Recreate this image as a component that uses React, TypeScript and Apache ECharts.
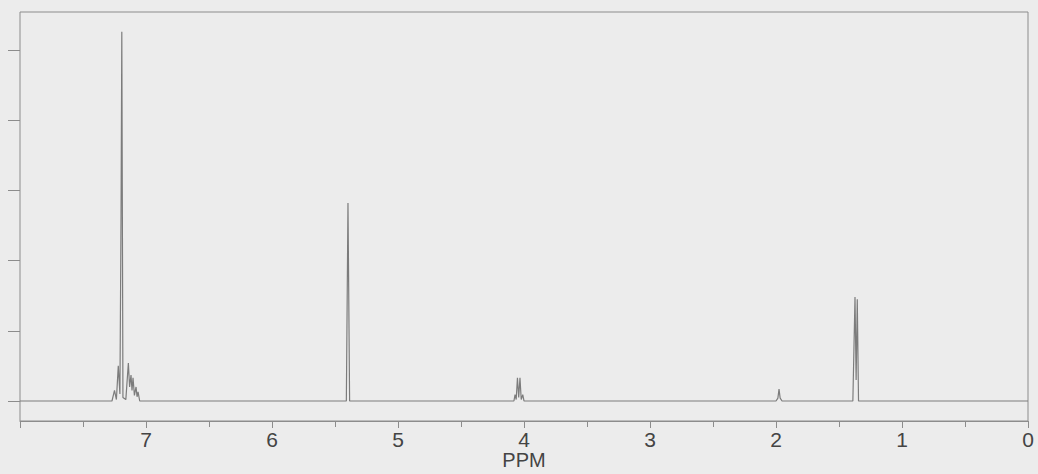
import React, { useEffect, useRef } from "react";
import * as echarts from "echarts";

// Spectrum points (chemical shift in ppm, intensity in y-tick units)
const shiftPpm: number[] = [
  8.0, 7.27, 7.25, 7.235, 7.22, 7.207, 7.198, 7.192, 7.183, 7.16, 7.14, 7.13,
  7.119, 7.111, 7.103, 7.092, 7.079, 7.071, 7.063, 7.05,
  5.41, 5.397, 5.384,
  4.08, 4.071, 4.062, 4.052, 4.042, 4.032, 4.022, 4.01, 4.0,
  2.0, 1.985, 1.976, 1.967, 1.952,
  1.39, 1.373, 1.364, 1.355, 1.345, 0.0,
];
const intensity: number[] = [
  0, 0, 0.15, 0.02, 0.5, 0.1, 2.67, 5.26, 0.05, 0.02, 0.54, 0.2,
  0.37, 0.15, 0.33, 0.08, 0.2, 0.06, 0.13, 0,
  0, 2.82, 0,
  0, 0.09, 0.02, 0.33, 0.05, 0.33, 0.02, 0.09, 0,
  0, 0.04, 0.17, 0.04, 0,
  0, 1.48, 0.3, 1.45, 0, 0,
];
const yTickValues: number[] = [0, 1, 2, 3, 4, 5];
const xAxisName = "PPM";

export default function App() {
  const ref = useRef<HTMLDivElement>(null);
  useEffect(() => {
    document.body.style.margin = "0";
    if (!ref.current) return;
    const chart = echarts.init(ref.current, undefined, { renderer: "svg" });
    const data = shiftPpm.map((x, i) => [x, intensity[i]]);
    chart.setOption({
      animation: false,
      backgroundColor: "#ececec",
      grid: {
        left: 20,
        right: 10,
        top: 12,
        bottom: 53,
        outerBoundsMode: "none",
        containLabel: false,
        show: true,
        borderColor: "#8c8c8c",
        borderWidth: 1,
        backgroundColor: "transparent",
      },
      xAxis: {
        type: "value",
        min: 0,
        max: 8,
        interval: 1,
        inverse: true,
        name: xAxisName,
        nameLocation: "middle",
        nameGap: 31,
        nameMoveOverlap: false,
        nameTextStyle: {
          fontFamily: "Liberation Sans, Arial, sans-serif",
          fontSize: 20,
          lineHeight: 15,
          color: "#444",
        },
        axisLine: { show: true, onZero: false, lineStyle: { color: "#8c8c8c", width: 1 } },
        axisTick: { show: true, inside: false, length: 7, lineStyle: { color: "#8c8c8c" } },
        minorTick: { show: true, splitNumber: 2, length: 6, lineStyle: { color: "#8c8c8c" } },
        splitLine: { show: false },
        axisLabel: {
          show: true,
          margin: 11,
          showMinLabel: true,
          showMaxLabel: true,
          fontFamily: "Liberation Sans, Arial, sans-serif",
          fontSize: 21,
          lineHeight: 15,
          color: "#444",
          formatter: (v: number) => (v === 8 ? "" : String(v)),
        },
      },
      yAxis: {
        type: "value",
        position: "left",
        min: -0.285,
        max: 5.54,
        axisLine: { show: false, onZero: false },
        axisTick: {
          show: true,
          inside: false,
          length: 12,
          customValues: yTickValues,
          lineStyle: { color: "#8c8c8c" },
        },
        axisLabel: { show: false },
        splitLine: { show: false },
      },
      series: [
        {
          type: "line",
          data,
          symbol: "none",
          lineStyle: { color: "#7c7c7c", width: 1.2 },
          silent: true,
        },
      ],
    });
    return () => chart.dispose();
  }, []);
  return (
    <div
      ref={ref}
      style={{ position: "absolute", left: 0, top: 0, width: 1038, height: 474, background: "#ececec" }}
    />
  );
}
